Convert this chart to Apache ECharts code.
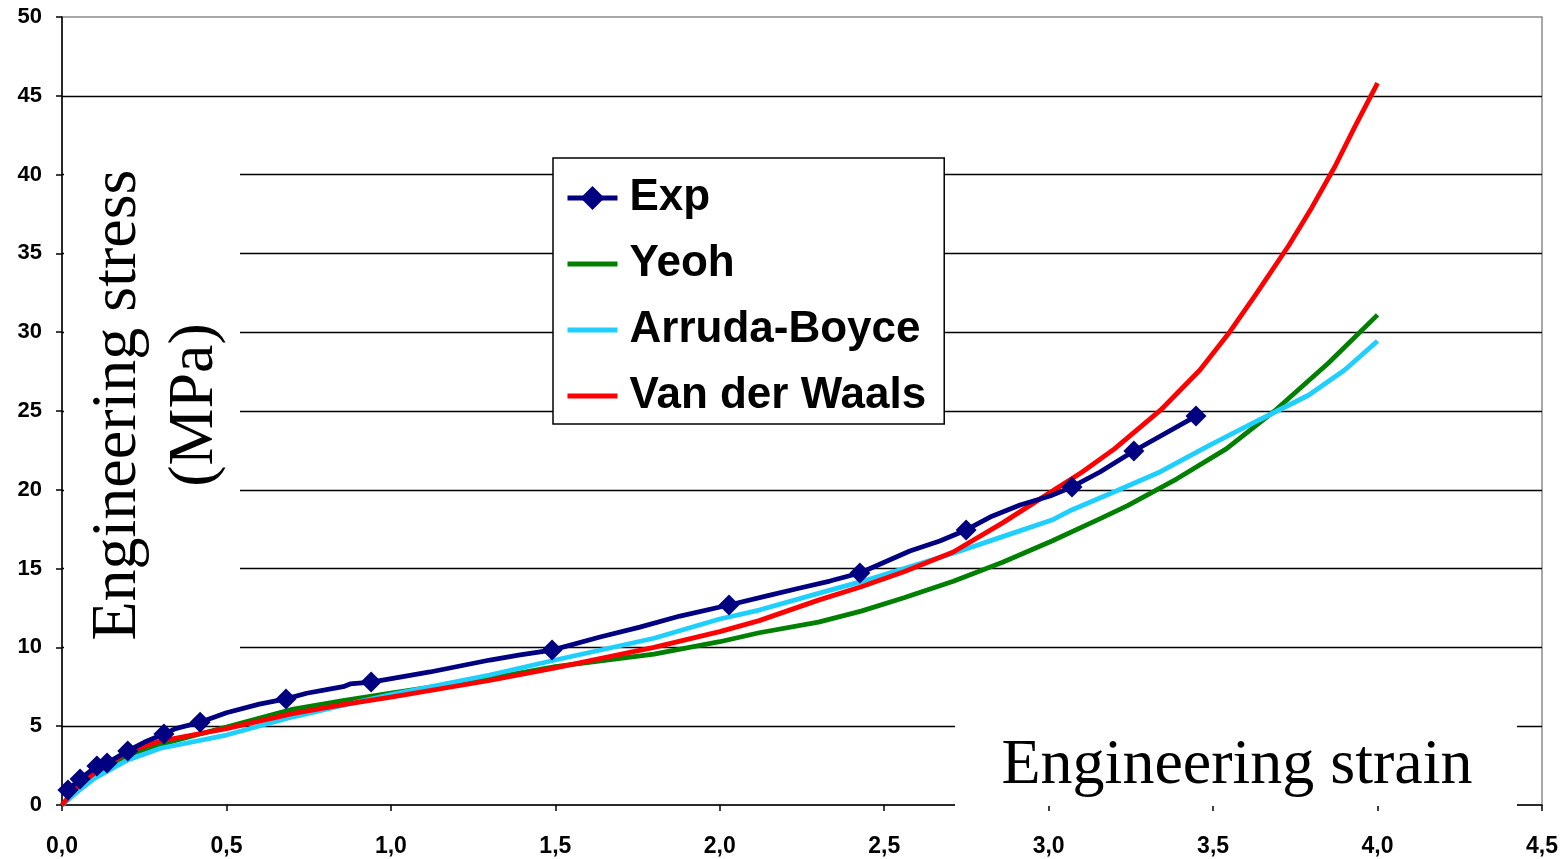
<!DOCTYPE html>
<html>
<head>
<meta charset="utf-8">
<script src="https://cdn.jsdelivr.net/npm/echarts@6/dist/echarts.min.js"></script>
<style>
html,body{margin:0;padding:0;background:#fff;}
#chart{width:1567px;height:859px;}
</style>
</head>
<body>
<div id="chart"></div>
<script>
// ---- data ----
const seriesNames = ['Exp', 'Yeoh', 'Arruda-Boyce', 'Van der Waals'];

const expStrain = [0.018,0.055,0.106,0.137,0.2,0.25,0.31,0.345,0.42,0.5,0.6,0.681,0.744,0.80,0.855,0.876,0.94,1.028,1.119,1.21,1.301,1.393,1.49,1.636,1.757,1.879,2.028,2.153,2.244,2.335,2.426,2.502,2.578,2.669,2.749,2.822,2.913,3.004,3.071,3.156,3.259,3.448];
const expStress = [0.95,1.65,2.47,2.66,3.43,3.98,4.5,4.85,5.25,5.85,6.4,6.73,7.09,7.3,7.51,7.68,7.8,8.12,8.44,8.82,9.2,9.52,9.83,10.66,11.29,11.99,12.69,13.32,13.77,14.21,14.72,15.42,16.12,16.75,17.45,18.27,19.04,19.61,20.18,21.13,22.46,24.68];
const expMarked = [1,1,1,1,1,0,1,0,1,0,0,1,0,0,0,0,1,0,0,0,0,0,1,0,0,0,1,0,0,0,1,0,0,0,1,0,0,0,1,0,1,1];

const yeohStrain = [0,0.05,0.1,0.2,0.3,0.5,0.7,0.85,1.0,1.3,1.5,1.8,2.0,2.12,2.3,2.43,2.56,2.71,2.86,3.01,3.16,3.24,3.39,3.54,3.69,3.85,4.0];
const yeohStress = [0,1.1,1.95,3.17,3.85,4.95,6.07,6.6,7.1,8.04,8.78,9.58,10.36,10.93,11.6,12.3,13.15,14.2,15.4,16.75,18.2,19.0,20.7,22.6,25.06,28.03,31.1];

const abStrain = [0,0.05,0.1,0.2,0.3,0.5,0.7,0.85,1.0,1.3,1.5,1.8,2.0,2.12,2.3,2.43,2.56,2.71,2.86,3.01,3.07,3.2,3.34,3.49,3.64,3.79,3.9,4.0];
const abStress = [0,0.9,1.71,2.86,3.6,4.44,5.58,6.3,7.0,8.25,9.2,10.58,11.8,12.37,13.43,14.17,15.0,15.97,17.03,18.08,18.72,19.88,21.15,22.84,24.43,26.0,27.6,29.44];

const vdwStrain = [0,0.025,0.05,0.1,0.2,0.3,0.5,0.7,0.85,1.0,1.3,1.5,1.8,2.0,2.12,2.3,2.43,2.56,2.71,2.86,3.01,3.1,3.2,3.34,3.46,3.55,3.63,3.73,3.8,3.87,3.93,4.0];
const vdwStress = [0,0.63,1.2,2.05,3.38,4.06,4.85,5.8,6.35,6.85,7.9,8.7,10.0,11.0,11.7,13.0,13.85,14.8,16.05,17.9,19.9,21.1,22.6,25.05,27.6,30.0,32.4,35.5,37.9,40.5,43.0,45.8];

const xTicks = {min: 0, max: 4.5, interval: 0.5};
const yTicks = {min: 0, max: 50, interval: 5};

// ---- chart ----
const pairs = (xs, ys) => xs.map((x, i) => [x, ys[i]]);
const expData = expStrain.map((x, i) => ({
  value: [x, expStress[i]],
  symbol: expMarked[i] ? 'diamond' : 'none'
}));

const chart = echarts.init(document.getElementById('chart'), null, {renderer: 'canvas'});
const labelFont = 'Liberation Sans, Arial, sans-serif';
const serifFont = 'Liberation Serif, Times New Roman, serif';
const noSymbol = {opacity: 0};
const legendLine = {width: 5};

chart.setOption({
  animation: false,
  backgroundColor: '#fff',
  grid: {left: 62, right: 25, top: 17, bottom: 54, show: true, borderColor: '#8c8c8c', borderWidth: 1.5, backgroundColor: 'transparent'},
  xAxis: {
    type: 'value', min: xTicks.min, max: xTicks.max, interval: xTicks.interval,
    axisLine: {show: true, onZero: false, lineStyle: {color: '#000', width: 1.5}},
    axisTick: {show: true, inside: false, length: 6, lineStyle: {color: '#000', width: 1.5}},
    splitLine: {show: false},
    axisLabel: {
      margin: 30, color: '#000', fontFamily: labelFont, fontWeight: 'bold', fontSize: 23,
      formatter: v => v.toFixed(1).replace('.', ',')
    }
  },
  yAxis: {
    type: 'value', min: yTicks.min, max: yTicks.max, interval: yTicks.interval,
    axisLine: {show: true, onZero: false, lineStyle: {color: '#000', width: 1.5}},
    axisTick: {show: true, inside: false, length: 6, lineStyle: {color: '#000', width: 1.5}},
    splitLine: {show: true, showMinLine: false, showMaxLine: false, lineStyle: {color: '#000', width: 1.3}},
    axisLabel: {margin: 20, color: '#000', fontFamily: labelFont, fontWeight: 'bold', fontSize: 22}
  },
  legend: {
    orient: 'vertical', left: 553, top: 158,
    data: [
      {name: seriesNames[0], lineStyle: legendLine},
      {name: seriesNames[1], itemStyle: noSymbol, lineStyle: legendLine},
      {name: seriesNames[2], itemStyle: noSymbol, lineStyle: legendLine},
      {name: seriesNames[3], itemStyle: noSymbol, lineStyle: legendLine}
    ],
    backgroundColor: '#fff', borderColor: '#000', borderWidth: 1.5,
    padding: [18, 18, 6, 12],
    itemWidth: 50, itemHeight: 30, itemGap: 22,
    textStyle: {fontFamily: labelFont, fontWeight: 'bold', fontSize: 44, color: '#000', padding: [0, 0, 0, 7]},
    z: 10
  },
  graphic: [
    {type: 'rect', z: 50, shape: {x: 64, y: 152, width: 176, height: 505}, style: {fill: '#fff'}},
    {type: 'text', z: 51, x: 157, y: 405, rotation: Math.PI / 2,
      style: {text: 'Engineering stress\n(MPa)', font: '64px ' + serifFont, fill: '#000', align: 'center', verticalAlign: 'middle', lineHeight: 77}},
    {type: 'rect', z: 50, shape: {x: 955, y: 716, width: 562, height: 90}, style: {fill: '#fff'}},
    {type: 'text', z: 51, x: 1237, y: 766,
      style: {text: 'Engineering strain', font: '64px ' + serifFont, fill: '#000', align: 'center', verticalAlign: 'middle'}}
  ],
  series: [
    {name: 'Yeoh', type: 'line', data: pairs(yeohStrain, yeohStress), symbol: 'none', z: 3,
      lineStyle: {color: '#008000', width: 4.8}, itemStyle: {color: '#008000'}},
    {name: 'Arruda-Boyce', type: 'line', data: pairs(abStrain, abStress), symbol: 'none', z: 4,
      lineStyle: {color: '#1ecfff', width: 4.8}, itemStyle: {color: '#1ecfff'}},
    {name: 'Van der Waals', type: 'line', data: pairs(vdwStrain, vdwStress), symbol: 'none', z: 5,
      lineStyle: {color: '#ff0000', width: 4.8}, itemStyle: {color: '#ff0000'}},
    {name: 'Exp', type: 'line', data: expData, symbol: 'diamond', symbolSize: 21, showAllSymbol: true, z: 6,
      lineStyle: {color: '#000080', width: 4.8}, itemStyle: {color: '#000080'}}
  ]
});
</script>
</body>
</html>
